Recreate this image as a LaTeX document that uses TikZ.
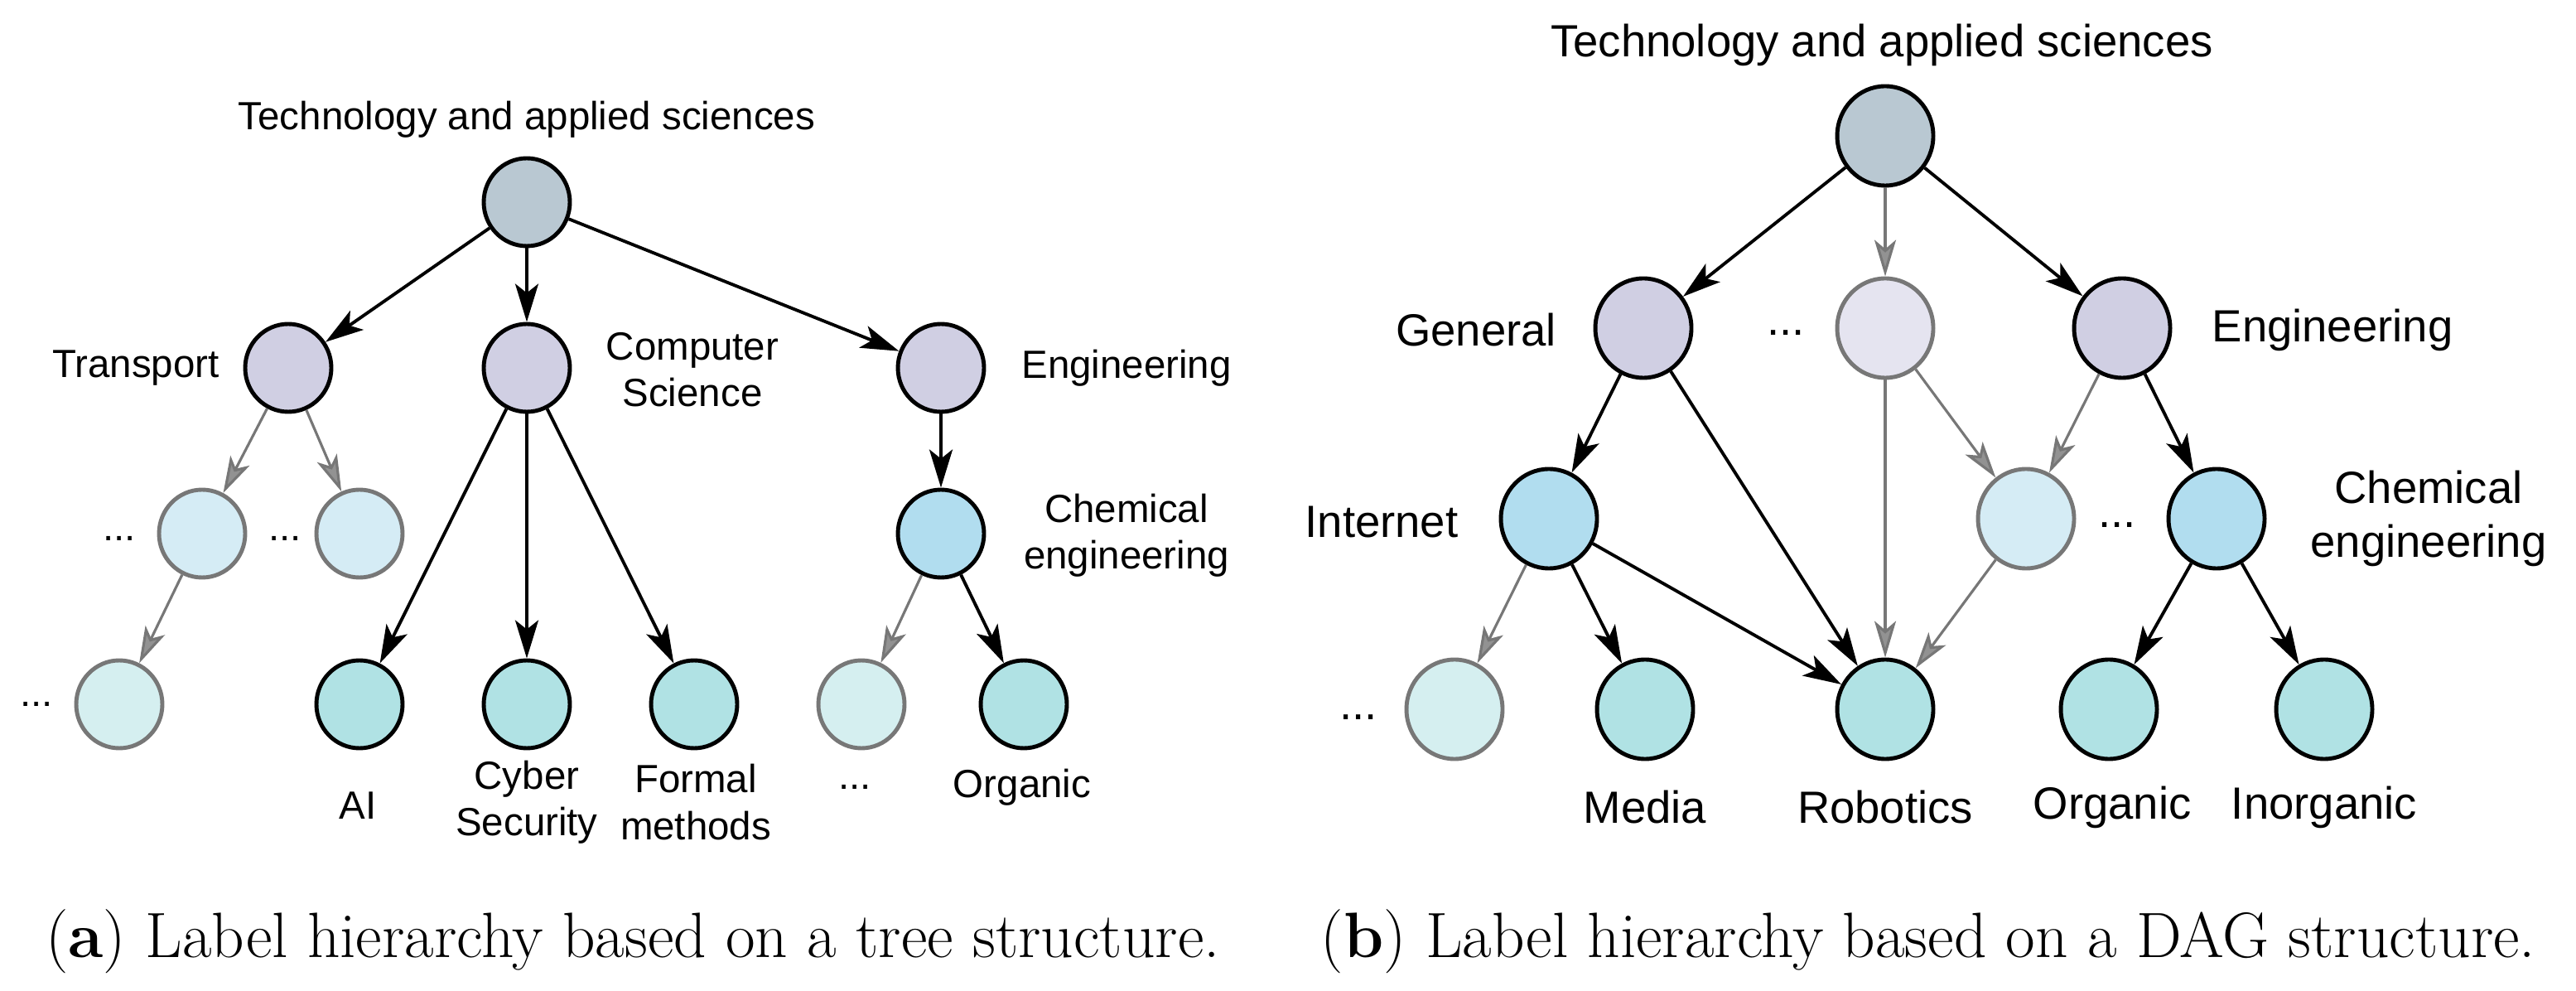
\documentclass[tikz,border=0pt]{standalone}
\usepackage{fontspec}
\setmainfont{Latin Modern Roman}
\newfontfamily\diagfont{Liberation Sans}
\usetikzlibrary{arrows.meta,shapes.geometric}
\definecolor{rootc}{HTML}{B9C8D2}
\definecolor{midc}{HTML}{D0CFE3}
\definecolor{midfc}{HTML}{E5E4F0}
\definecolor{chemc}{HTML}{B1DDEF}
\definecolor{chemfc}{HTML}{D5ECF5}
\definecolor{leafc}{HTML}{B0E2E4}
\definecolor{leaffc}{HTML}{D5EFF0}
\definecolor{faintc}{HTML}{777777}

\begin{document}
\begin{tikzpicture}[% shared looks
		every node/.style={font=\diagfont},
		cat/.style={ellipse,draw=black,line width=1.4pt,inner sep=0pt},
		catL/.style={cat,minimum width=1.04cm,minimum height=1.06cm},
		catR/.style={cat,minimum width=1.16cm,minimum height=1.2cm},
		faint/.style={draw=faintc},
		lblL/.style={font=\diagfont\fontsize{13.5}{16}\selectfont,align=center},
		lblR/.style={font=\diagfont\fontsize{15.5}{18.5}\selectfont,align=center},
		sure/.style={draw,line width=1.1pt,-{Stealth[length=0.46cm,width=0.28cm,inset=0.11cm]}},
		maybe/.style={draw=faintc,line width=0.9pt,-{Stealth[length=0.44cm,width=0.26cm,inset=0.11cm,fill=faintc!80]}}
	]
	\useasboundingbox (0,0) rectangle (31.1,-11.96);

	% (a) tree
	\node[catL,fill=rootc](aRoot) at (6.36,-2.44){};
	\node[catL,fill=midc](aTrans) at (3.48,-4.44){};
	\node[catL,fill=midc](aCS) at (6.36,-4.44){};
	\node[catL,fill=midc](aEng) at (11.36,-4.44){};
	\node[catL,faint,fill=chemfc](aDotsA) at (2.44,-6.44){};
	\node[catL,faint,fill=chemfc](aDotsB) at (4.34,-6.44){};
	\node[catL,fill=chemc](aChem) at (11.36,-6.44){};
	\node[catL,faint,fill=leaffc](aDotsC) at (1.44,-8.5){};
	\node[catL,fill=leafc](aAI) at (4.34,-8.5){};
	\node[catL,fill=leafc](aCyber) at (6.36,-8.5){};
	\node[catL,fill=leafc](aFormal) at (8.38,-8.5){};
	\node[catL,faint,fill=leaffc](aDotsD) at (10.4,-8.5){};
	\node[catL,fill=leafc](aOrg) at (12.36,-8.5){};

	\node[lblL](taRoot) at (6.36,-1.44){Technology and applied sciences};
	\node[lblL](taTrans) at (1.64,-4.44){Transport};
	\node[lblL](taCS) at (8.36,-4.46){Computer\\Science};
	\node[lblL](taEng) at (13.6,-4.44){Engineering};
	\node[lblL](taDotsA) at (1.44,-6.5){...};
	\node[lblL](taDotsB) at (3.44,-6.5){...};
	\node[lblL](taChem) at (13.6,-6.46){Chemical\\engineering};
	\node[lblL](taDotsC) at (0.44,-8.5){...};
	\node[lblL](taAI) at (4.32,-9.72){AI};
	\node[lblL](taCyber) at (6.36,-9.68){Cyber\\Security};
	\node[lblL](taFormal) at (8.4,-9.68){Formal\\methods};
	\node[lblL](taDotsD) at (10.32,-9.5){...};
	\node[lblL](taOrg) at (12.34,-9.5){Organic};

	\path[sure] (aRoot)--(aTrans);
	\path[sure] (aRoot)--(aCS);
	\path[sure] (aRoot)--(aEng);
	\path[maybe] (aTrans)--(aDotsA);
	\path[maybe] (aTrans)--(aDotsB);
	\path[maybe] (aDotsA)--(aDotsC);
	\path[sure] (aCS)--(aAI);
	\path[sure] (aCS)--(aCyber);
	\path[sure] (aCS)--(aFormal);
	\path[sure] (aEng)--(aChem);
	\path[maybe] (aChem)--(aDotsD);
	\path[sure] (aChem)--(aOrg);

	% (b) DAG
	\node[catR,fill=rootc](bRoot) at (22.76,-1.64){};
	\node[catR,fill=midc](bGen) at (19.84,-3.96){};
	\node[catR,faint,fill=midfc](bDotsA) at (22.76,-3.96){};
	\node[catR,fill=midc](bEng) at (25.62,-3.96){};
	\node[catR,fill=chemc](bNet) at (18.7,-6.26){};
	\node[catR,faint,fill=chemfc](bDotsB) at (24.46,-6.26){};
	\node[catR,fill=chemc](bChem) at (26.76,-6.26){};
	\node[catR,faint,fill=leaffc](bDotsC) at (17.56,-8.56){};
	\node[catR,fill=leafc](bMedia) at (19.86,-8.56){};
	\node[catR,fill=leafc](bRobot) at (22.76,-8.56){};
	\node[catR,fill=leafc](bOrg) at (25.46,-8.56){};
	\node[catR,fill=leafc](bInorg) at (28.06,-8.56){};

	\node[lblR](tbRoot) at (22.72,-0.54){Technology and applied sciences};
	\node[lblR](tbGen) at (17.82,-3.98){General};
	\node[lblR](tbDotsA) at (21.56,-4.02){...};
	\node[lblR](tbEng) at (28.16,-3.98){Engineering};
	\node[lblR](tbNet) at (16.68,-6.3){Internet};
	\node[lblR](tbDotsB) at (25.56,-6.34){...};
	\node[lblR](tbChem) at (29.32,-6.26){Chemical\\engineering};
	\node[lblR](tbDotsC) at (16.4,-8.66){...};
	\node[lblR](tbMedia) at (19.86,-9.74){Media};
	\node[lblR](tbRobot) at (22.76,-9.74){Robotics};
	\node[lblR](tbOrg) at (25.5,-9.74){Organic};
	\node[lblR](tbInorg) at (28.06,-9.74){Inorganic};

	\path[sure] (bRoot)--(bGen);
	\path[maybe] (bRoot)--(bDotsA);
	\path[sure] (bRoot)--(bEng);
	\path[sure] (bGen)--(bNet);
	\path[sure] (bGen)--(bRobot);
	\path[maybe] (bDotsA)--(bRobot);
	\path[maybe] (bDotsA)--(bDotsB);
	\path[maybe] (bEng)--(bDotsB);
	\path[sure] (bEng)--(bChem);
	\path[maybe] (bNet)--(bDotsC);
	\path[sure] (bNet)--(bMedia);
	\path[sure] (bNet)--(bRobot);
	\path[maybe] (bDotsB)--(bRobot);
	\path[sure] (bChem)--(bOrg);
	\path[sure] (bChem)--(bInorg);

	% captions
	\node[font=\rmfamily\fontsize{22}{26}\selectfont](capA) at (7.64,-11.36){(\textbf{a}) Label hierarchy based on a tree structure.};
	\node[font=\rmfamily\fontsize{22}{26}\selectfont](capB) at (23.28,-11.36){(\textbf{b}) Label hierarchy based on a DAG structure.};
\end{tikzpicture}
\end{document}
